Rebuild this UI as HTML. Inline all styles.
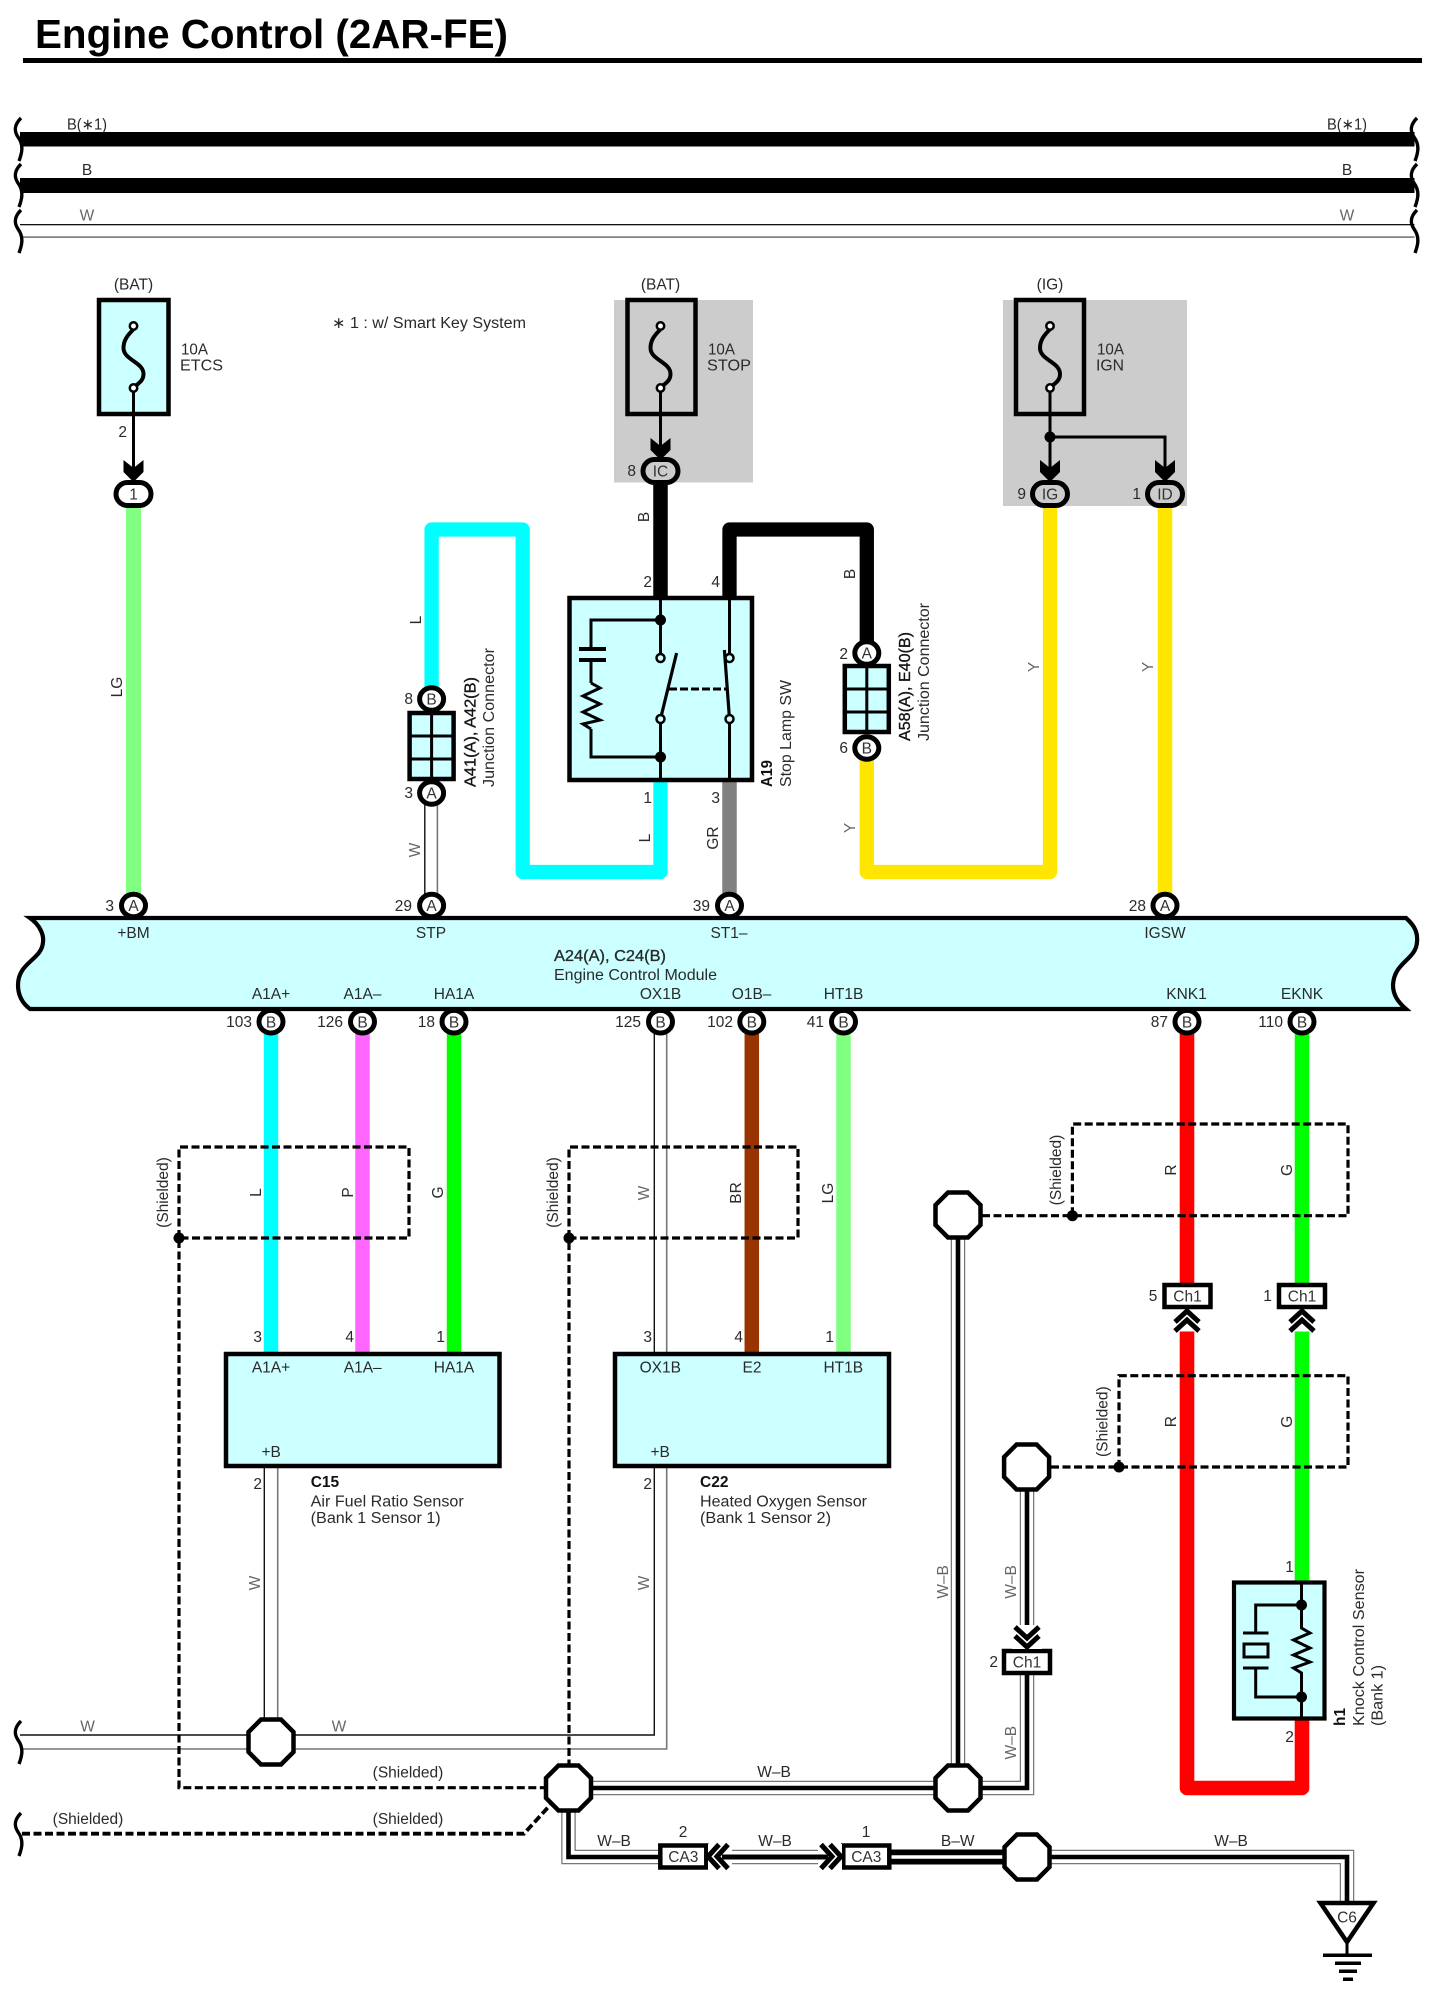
<!DOCTYPE html>
<html><head><meta charset="utf-8"><title>Engine Control (2AR-FE)</title>
<style>
html,body{margin:0;padding:0;background:#fff}
svg{display:block}
text{font-family:"Liberation Sans",sans-serif;font-size:15.5px;fill:#2a2a2a}
.m{text-anchor:middle}.e{text-anchor:end}
.b{font-weight:bold;fill:#111}
.s{font-size:15.5px;fill:#333}
.g{fill:#666}
.w{fill:none;stroke-linejoin:round}
.d{fill:none;stroke:#000;stroke-width:3.2;stroke-dasharray:8 3.5}
.k{fill:none;stroke:#000}
</style></head><body>
<svg xmlns="http://www.w3.org/2000/svg" width="1432" height="1996" viewBox="0 0 1432 1996">
<defs>
<path id="br" d="M21,0 C14,7 14,13 18,19 C24,27 22,35 19,43" fill="none" stroke="#000" stroke-width="3.4"/>
<polygon id="oct" points="-10,-22.5 10,-22.5 22.5,-10 22.5,10 10,22.5 -10,22.5 -22.5,10 -22.5,-10" fill="#fff" stroke="#000" stroke-width="4.5"/>
<ellipse id="c" rx="12" ry="11.3" fill="#fff" stroke="#000" stroke-width="5"/>
<rect id="p" x="-17.5" y="-11.5" width="35" height="23" rx="11.5" fill="#fff" stroke="#000" stroke-width="5"/>
<rect id="pg" x="-17.5" y="-11.5" width="35" height="23" rx="11.5" fill="#ccc" stroke="#000" stroke-width="5"/>
<polygon id="ad" points="-10,-20 0,-12 10,-20 10,-8 0,2 -10,-8"/>
<g id="fuse">
<path d="M0,31 C-3,35 -10,40 -10,50 C-10,62 10,64 10,76 C10,84 3,86 0,90" fill="none" stroke="#000" stroke-width="4"/>
<path d="M0,90 V120" fill="none" stroke="#000" stroke-width="3"/>
<circle cy="28" r="3.7" fill="#fff" stroke="#000" stroke-width="2.5"/>
<circle cy="90" r="3.7" fill="#fff" stroke="#000" stroke-width="2.5"/>
</g>
<g id="dc">
<polyline points="-12,13 0,2 12,13" fill="none" stroke="#000" stroke-width="5"/>
<polyline points="-12,22 0,11 12,22" fill="none" stroke="#000" stroke-width="5"/>
</g>
<g id="jb">
<rect x="-22" y="0" width="44" height="66" fill="#ccffff" stroke="#000" stroke-width="4.5"/>
<path d="M0,0 V66" stroke="#000" stroke-width="3"/>
<path d="M-22,23 H22 M-22,46 H22" stroke="#000" stroke-width="3"/>
</g>
<g id="tr1"><rect x="-23" y="-11" width="46" height="22" fill="#fff" stroke="#000" stroke-width="4.5"/></g>
</defs>

<!-- Title -->
<text x="35" y="48" style="font-size:41px;font-weight:bold;fill:#000" textLength="473" lengthAdjust="spacingAndGlyphs">Engine Control (2AR-FE)</text>
<rect x="23" y="58" width="1399" height="5" fill="#000"/>

<!-- Buses -->
<rect x="20" y="132" width="1394.5" height="14.5" fill="#000"/>
<rect x="20" y="178" width="1394.5" height="15" fill="#000"/>
<rect x="20" y="224" width="1394.5" height="1.3" fill="#111"/>
<rect x="20" y="236.3" width="1394.5" height="1.6" fill="#777"/>
<use href="#br" x="0" y="118"/><use href="#br" x="0" y="164"/><use href="#br" x="0" y="210"/>
<use href="#br" x="1396" y="118"/><use href="#br" x="1396" y="164"/><use href="#br" x="1396" y="210"/>
<text class="m" x="87" y="129.5" textLength="40" lengthAdjust="spacingAndGlyphs">B(∗1)</text>
<text class="m" x="87" y="175">B</text>
<text class="m g" x="87" y="220.5">W</text>
<text class="m" x="1347" y="129.5" textLength="40" lengthAdjust="spacingAndGlyphs">B(∗1)</text>
<text class="m" x="1347" y="175">B</text>
<text class="m g" x="1347" y="220.5">W</text>

<!-- Grey zones -->
<rect x="614" y="300" width="139" height="182.5" fill="#ccc"/>
<rect x="1003" y="300" width="184" height="206" fill="#ccc"/>

<!-- Wires top half -->
<g class="w">
<path d="M133.5,500 V905" stroke="#80ff80" stroke-width="15" fill="none"/>
<path d="M660.5,480 V600" stroke="#000" stroke-width="14.5" fill="none"/>
<path d="M729.5,600 V529.5 H866.8 V645" stroke="#000" stroke-width="14.3" fill="none" stroke-linejoin="round"/>
<path d="M431.6,695 V529.5 H522.7 V872 H660.5 V778" stroke="#00ffff" stroke-width="14.3" fill="none" stroke-linejoin="round"/>
<path d="M866.8,755 V872 H1050 V500" stroke="#ffe600" stroke-width="14.3" fill="none" stroke-linejoin="round"/>
<path d="M1165,500 V905" stroke="#ffe600" stroke-width="14.5" fill="none"/>
<path d="M729.5,780 V905" stroke="#808080" stroke-width="14.5" fill="none"/>
</g>
<path d="M424.8,795 V905" stroke="#111" stroke-width="1.4"/>
<path d="M437.4,795 V905" stroke="#777" stroke-width="1.6"/>

<!-- Fuses -->
<rect x="99" y="300" width="69.5" height="114" fill="#ccffff" stroke="#000" stroke-width="4.5"/>
<use href="#fuse" x="133.5" y="298"/>
<path d="M133.5,415 V470" class="k" stroke-width="3"/>
<use href="#ad" x="133.5" y="480"/>
<rect x="627.5" y="300" width="68" height="114" fill="#ccc" stroke="#000" stroke-width="4.5"/>
<use href="#fuse" x="660.5" y="298"/>
<path d="M660.5,415 V448" class="k" stroke-width="3"/>
<use href="#ad" x="660.5" y="458"/>
<rect x="1016" y="300" width="68" height="114" fill="#ccc" stroke="#000" stroke-width="4.5"/>
<use href="#fuse" x="1050" y="298"/>
<path d="M1050,415 V470 M1050,437 H1165 V470" class="k" stroke-width="3"/>
<circle cx="1050" cy="437" r="5.5"/>
<use href="#ad" x="1050" y="480"/><use href="#ad" x="1165" y="480"/>

<use href="#p" x="133.5" y="494"/>
<use href="#pg" x="660.5" y="471"/>
<use href="#pg" x="1050" y="494"/>
<use href="#pg" x="1165" y="494"/>
<text class="m s" x="133.5" y="499.5">1</text>
<text class="m s" x="660.5" y="476.5">IC</text>
<text class="m s" x="1050" y="499.5">IG</text>
<text class="m s" x="1165" y="499.5">ID</text>
<text class="e" x="636" y="476">8</text>
<text class="e" x="1026" y="499">9</text>
<text class="e" x="1141" y="499">1</text>
<text x="127" y="437" class="e" style="font-size:15.5px">2</text>

<text class="m" x="133.5" y="289.5">(BAT)</text>
<text class="m" x="660.5" y="289.5">(BAT)</text>
<text class="m" x="1050" y="289.5">(IG)</text>
<text x="181" y="354.5" textLength="27" lengthAdjust="spacingAndGlyphs">10A</text>
<text x="180" y="370.5" textLength="43" lengthAdjust="spacingAndGlyphs">ETCS</text>
<text x="708" y="354.5" textLength="27" lengthAdjust="spacingAndGlyphs">10A</text>
<text x="707" y="370.5" textLength="44" lengthAdjust="spacingAndGlyphs">STOP</text>
<text x="1097" y="354.5" textLength="27" lengthAdjust="spacingAndGlyphs">10A</text>
<text x="1096" y="370.5" textLength="28" lengthAdjust="spacingAndGlyphs">IGN</text>
<text x="332" y="328" textLength="194" lengthAdjust="spacingAndGlyphs">∗ 1 : w/ Smart Key System</text>

<!-- Switch -->
<rect x="569.5" y="598" width="182.5" height="182" fill="#ccffff" stroke="#000" stroke-width="4.5"/>
<g class="k" stroke-width="3">
<path d="M660.5,598 V658 M660.5,719 V780 M729.5,598 V658 M729.5,719 V780"/>
<path d="M660.5,620 H591 V649 M591,660 V683 M591,729 V757 H660.5"/>
<path d="M591,683 L600,688 L583,696 L600,704 L583,712 L600,720 L583,724 L591,729" stroke-width="3"/>
<path d="M579,649 H606 M579,660 H606" stroke-width="4"/>
<path d="M660.5,719 L676.6,653" stroke-width="3.2"/>
<path d="M724.4,650 L729.5,719" stroke-width="3.2"/>
<path d="M669,689 H726" stroke-dasharray="8 3"/>
</g>
<circle cx="660.5" cy="620" r="5.5"/><circle cx="660.5" cy="757" r="5.5"/>
<circle cx="660.5" cy="658" r="4" fill="#ccffff" stroke="#000" stroke-width="2.5"/>
<circle cx="660.5" cy="719" r="4" fill="#ccffff" stroke="#000" stroke-width="2.5"/>
<circle cx="729.5" cy="658" r="4" fill="#ccffff" stroke="#000" stroke-width="2.5"/>
<circle cx="729.5" cy="719" r="4" fill="#ccffff" stroke="#000" stroke-width="2.5"/>

<!-- Junction connectors -->
<use href="#jb" x="431.6" y="713"/>
<use href="#jb" x="866.8" y="666"/>
<use href="#c" x="431.6" y="699"/><text class="m s" x="431.6" y="704.5">B</text>
<use href="#c" x="431.6" y="793"/><text class="m s" x="431.6" y="798.5">A</text>
<use href="#c" x="866.8" y="653"/><text class="m s" x="866.8" y="658.5">A</text>
<use href="#c" x="866.8" y="748"/><text class="m s" x="866.8" y="753.5">B</text>
<text class="e" x="413" y="704">8</text><text class="e" x="413" y="798">3</text>
<text class="e" x="848" y="659">2</text><text class="e" x="848" y="753">6</text>
<text class="e" x="652" y="587">2</text><text class="e" x="720" y="587">4</text>
<text class="e" x="652" y="803">1</text><text class="e" x="720" y="803">3</text>

<!-- Rotated labels upper -->
<text class="m" transform="translate(122,687) rotate(-90)">LG</text>
<text class="m" transform="translate(421,620) rotate(-90)">L</text>
<text class="m g" transform="translate(420,850) rotate(-90)">W</text>
<text class="m" transform="translate(649,517) rotate(-90)">B</text>
<text class="m" transform="translate(855,574) rotate(-90)">B</text>
<text class="m" transform="translate(650,838) rotate(-90)">L</text>
<text class="m" transform="translate(718,838) rotate(-90)">GR</text>
<text class="m g" transform="translate(855,828) rotate(-90)">Y</text>
<text class="m g" transform="translate(1039,667) rotate(-90)">Y</text>
<text class="m g" transform="translate(1153,667) rotate(-90)">Y</text>
<text class="b" style="font-weight:normal;stroke:#222;stroke-width:.35" transform="translate(475.7,787) rotate(-90)" textLength="110" lengthAdjust="spacingAndGlyphs">A41(A), A42(B)</text>
<text transform="translate(494,787) rotate(-90)" textLength="139" lengthAdjust="spacingAndGlyphs">Junction Connector</text>
<text class="b" transform="translate(772,787) rotate(-90)" textLength="27" lengthAdjust="spacingAndGlyphs">A19</text>
<text transform="translate(791,787) rotate(-90)" textLength="107" lengthAdjust="spacingAndGlyphs">Stop Lamp SW</text>
<text class="b" style="font-weight:normal;stroke:#222;stroke-width:.35" transform="translate(910,741) rotate(-90)" textLength="109" lengthAdjust="spacingAndGlyphs">A58(A), E40(B)</text>
<text transform="translate(929,741) rotate(-90)" textLength="138" lengthAdjust="spacingAndGlyphs">Junction Connector</text>

<!-- Lower wires -->
<path d="M271,1020 V1354" stroke="#00ffff" stroke-width="14.5"/>
<path d="M362.5,1020 V1354" stroke="#ff66ff" stroke-width="14.5"/>
<path d="M454,1020 V1354" stroke="#00ff00" stroke-width="14.5"/>
<path d="M654.3,1020 V1354" stroke="#111" stroke-width="1.4"/>
<path d="M666.7,1020 V1354" stroke="#777" stroke-width="1.6"/>
<path d="M751.8,1020 V1354" stroke="#993300" stroke-width="14.5"/>
<path d="M843.5,1020 V1354" stroke="#80ff80" stroke-width="14.5"/>
<path d="M1187,1020 V1285" stroke="#ff0000" stroke-width="14.6"/>
<path d="M1302,1020 V1285" stroke="#00ff00" stroke-width="14.6"/>
<path d="M1187,1325 V1788 H1302 V1715" fill="none" stroke="#ff0000" stroke-width="14.6" stroke-linejoin="round"/>
<path d="M1302,1325 V1585" stroke="#00ff00" stroke-width="14.6"/>

<!-- White double wires -->
<g fill="none">
<path d="M264.3,1466 V1722" stroke="#111" stroke-width="1.4"/>
<path d="M277.7,1466 V1722" stroke="#777" stroke-width="1.6"/>
<path d="M20,1735 H250 M292,1735 H654.3 V1466" stroke="#111" stroke-width="1.4"/>
<path d="M20,1749 H250 M292,1749 H666.7 V1466" stroke="#777" stroke-width="1.6"/>
</g>

<!-- W-B triple wires -->
<g fill="none" stroke-linejoin="miter">
<g stroke="#777" stroke-width="14.5">
<path d="M568.5,1788 H1027 V1467"/><path d="M958,1215 V1788"/><path d="M568.5,1788 V1857 H659"/><path d="M708,1857 H841"/><path d="M1027,1857 H1347 V1905"/>
</g>
<g stroke="#fff" stroke-width="12">
<path d="M568.5,1788 H1027 V1467"/><path d="M958,1215 V1788"/><path d="M568.5,1788 V1857 H659"/><path d="M708,1857 H841"/><path d="M1027,1857 H1347 V1905"/>
</g>
<g stroke="#000" stroke-width="4.6">
<path d="M568.5,1788 H1027 V1467"/><path d="M958,1215 V1788"/><path d="M568.5,1788 V1857 H659"/><path d="M708,1857 H841"/><path d="M1027,1857 H1347 V1905"/>
</g>
<path d="M891,1857 H1005" stroke="#000" stroke-width="15"/>
<path d="M891,1857 H1005" stroke="#fff" stroke-width="3.5"/>
</g>

<!-- Shields -->
<path class="d" d="M179,1238 V1147 H409 V1238 H179 V1787.7 H545"/>
<path class="d" d="M569,1238 V1147 H798 V1238 H569 V1765"/>
<path class="d" d="M982,1215.7 H1348 V1124 H1072.4 V1215.7"/>
<path class="d" d="M1051,1467 H1348 V1375.7 H1119 V1467"/>
<path class="d" style="stroke-width:3.8" d="M22,1833.7 H524 L552,1803"/>
<circle cx="179" cy="1238" r="5.5"/><circle cx="569" cy="1238" r="5.5"/>
<circle cx="1072.4" cy="1215.7" r="5.5"/><circle cx="1119" cy="1467" r="5.5"/>

<!-- ECM -->
<path d="M30,918 H1406 C1414,925 1418,932 1417,942 C1416,960 1394,962 1393,985 C1393,995 1398,1002 1406,1009 H30 C22,1003 18,995 18,985 C18,962 42,960 43,942 C44,935 40,925 30,918 Z" fill="#ccffff" stroke="#000" stroke-width="4.2"/>
<text class="m" x="133.5" y="938">+BM</text>
<text class="m" x="431" y="938">STP</text>
<text class="m" x="729" y="938">ST1–</text>
<text class="m" x="1165" y="938">IGSW</text>
<text x="554" y="961" textLength="112" lengthAdjust="spacingAndGlyphs" style="stroke:#222;stroke-width:.3">A24(A), C24(B)</text>
<text x="554" y="980" textLength="163" lengthAdjust="spacingAndGlyphs">Engine Control Module</text>
<text class="m" x="271" y="999">A1A+</text>
<text class="m" x="362.5" y="999">A1A–</text>
<text class="m" x="454" y="999">HA1A</text>
<text class="m" x="660.5" y="999">OX1B</text>
<text class="m" x="751.6" y="999">O1B–</text>
<text class="m" x="843.5" y="999">HT1B</text>
<text class="m" x="1186.5" y="999">KNK1</text>
<text class="m" x="1302" y="999">EKNK</text>

<!-- ECM pins -->
<use href="#c" x="133.5" y="905.5"/><text class="m s" x="133.5" y="911">A</text>
<use href="#c" x="431.6" y="905.5"/><text class="m s" x="431.6" y="911">A</text>
<use href="#c" x="729.5" y="905.5"/><text class="m s" x="729.5" y="911">A</text>
<use href="#c" x="1165" y="905.5"/><text class="m s" x="1165" y="911">A</text>
<text class="e" x="114" y="911">3</text><text class="e" x="412" y="911">29</text>
<text class="e" x="710" y="911">39</text><text class="e" x="1146" y="911">28</text>
<use href="#c" x="271" y="1021.7"/><text class="m s" x="271" y="1027.5">B</text>
<use href="#c" x="362.5" y="1021.7"/><text class="m s" x="362.5" y="1027.5">B</text>
<use href="#c" x="454" y="1021.7"/><text class="m s" x="454" y="1027.5">B</text>
<use href="#c" x="660.5" y="1021.7"/><text class="m s" x="660.5" y="1027.5">B</text>
<use href="#c" x="751.8" y="1021.7"/><text class="m s" x="751.8" y="1027.5">B</text>
<use href="#c" x="843.5" y="1021.7"/><text class="m s" x="843.5" y="1027.5">B</text>
<use href="#c" x="1187" y="1021.7"/><text class="m s" x="1187" y="1027.5">B</text>
<use href="#c" x="1302" y="1021.7"/><text class="m s" x="1302" y="1027.5">B</text>
<text class="e" x="252" y="1027">103</text><text class="e" x="343" y="1027">126</text>
<text class="e" x="435" y="1027">18</text><text class="e" x="641" y="1027">125</text>
<text class="e" x="733" y="1027">102</text><text class="e" x="824" y="1027">41</text>
<text class="e" x="1168" y="1027">87</text><text class="e" x="1283" y="1027">110</text>

<!-- Sensors -->
<rect x="226" y="1354" width="273.5" height="112" fill="#ccffff" stroke="#000" stroke-width="4.5"/>
<rect x="615" y="1354" width="274" height="112" fill="#ccffff" stroke="#000" stroke-width="4.5"/>
<text class="m" x="271" y="1372.5">A1A+</text><text class="m" x="362.7" y="1372.5">A1A–</text><text class="m" x="454" y="1372.5">HA1A</text>
<text class="m" x="660.3" y="1372.5">OX1B</text><text class="m" x="752" y="1372.5">E2</text><text class="m" x="843.3" y="1372.5">HT1B</text>
<text x="261.5" y="1457">+B</text><text x="650.5" y="1457">+B</text>
<text class="e" x="262" y="1342">3</text><text class="e" x="354" y="1342">4</text><text class="e" x="445" y="1342">1</text>
<text class="e" x="652" y="1342">3</text><text class="e" x="743" y="1342">4</text><text class="e" x="834" y="1342">1</text>
<text class="e" x="262" y="1489">2</text><text class="e" x="652" y="1489">2</text>
<text class="b" x="310.7" y="1487">C15</text>
<text x="310.7" y="1506.5" textLength="153" lengthAdjust="spacingAndGlyphs">Air Fuel Ratio Sensor</text>
<text x="310.7" y="1523" textLength="130" lengthAdjust="spacingAndGlyphs">(Bank 1 Sensor 1)</text>
<text class="b" x="700" y="1487">C22</text>
<text x="700" y="1506.5" textLength="167" lengthAdjust="spacingAndGlyphs">Heated Oxygen Sensor</text>
<text x="700" y="1523" textLength="131" lengthAdjust="spacingAndGlyphs">(Bank 1 Sensor 2)</text>

<!-- Lower rotated labels -->
<text class="m" transform="translate(168,1192.5) rotate(-90)">(Shielded)</text>
<text class="m" transform="translate(558,1192.5) rotate(-90)">(Shielded)</text>
<text class="m" transform="translate(1061,1170) rotate(-90)">(Shielded)</text>
<text class="m" transform="translate(1107.5,1421.7) rotate(-90)">(Shielded)</text>
<text class="m" transform="translate(261,1192.5) rotate(-90)">L</text>
<text class="m" transform="translate(353,1192.5) rotate(-90)">P</text>
<text class="m" transform="translate(443,1192.5) rotate(-90)">G</text>
<text class="m g" transform="translate(649,1193) rotate(-90)">W</text>
<text class="m" transform="translate(741,1193) rotate(-90)">BR</text>
<text class="m" transform="translate(833,1193) rotate(-90)">LG</text>
<text class="m" transform="translate(1176,1170) rotate(-90)">R</text>
<text class="m" transform="translate(1292,1170) rotate(-90)">G</text>
<text class="m" transform="translate(1176,1421.7) rotate(-90)">R</text>
<text class="m" transform="translate(1292,1421.7) rotate(-90)">G</text>
<text class="m g" transform="translate(260,1583) rotate(-90)">W</text>
<text class="m g" transform="translate(649,1583) rotate(-90)">W</text>
<text class="m g" transform="translate(948,1582) rotate(-90)">W–B</text>
<text class="m g" transform="translate(1016,1582) rotate(-90)">W–B</text>
<text class="m g" transform="translate(1016,1742.7) rotate(-90)">W–B</text>

<!-- Ch1 connectors -->
<use href="#tr1" x="1187.5" y="1296"/><text class="m s" x="1187.5" y="1301.5">Ch1</text>
<use href="#tr1" x="1302" y="1296"/><text class="m s" x="1302" y="1301.5">Ch1</text>
<use href="#tr1" x="1027" y="1662"/><text class="m s" x="1027" y="1667.5">Ch1</text>
<text class="m" x="1153" y="1301">5</text><text class="m" x="1267.5" y="1301">1</text>
<text class="e" x="998" y="1667">2</text>
<rect x="1172" y="1309.5" width="30" height="22" fill="#fff"/>
<rect x="1287" y="1309.5" width="30" height="22" fill="#fff"/>
<rect x="1012" y="1625" width="30" height="24" fill="#fff"/>
<use href="#dc" x="1187" y="1309"/>
<use href="#dc" x="1302" y="1309"/>
<use href="#dc" transform="translate(1027,1649) rotate(180)"/>

<!-- CA3 -->
<use href="#tr1" x="683.3" y="1856.5"/><text class="m s" x="683.3" y="1862">CA3</text>
<use href="#tr1" x="866.3" y="1856.5"/><text class="m s" x="866.3" y="1862">CA3</text>
<rect x="708" y="1844" width="24" height="26" fill="#fff"/>
<rect x="818" y="1844" width="24" height="26" fill="#fff"/>
<path d="M722,1857 H828" stroke="#000" stroke-width="5"/>
<use href="#dc" transform="translate(706,1856.5) rotate(-90)"/>
<use href="#dc" transform="translate(843,1856.5) rotate(90)"/>
<text class="m" x="683" y="1837">2</text><text class="m" x="866" y="1837">1</text>

<!-- Horizontal labels lower -->
<text class="m g" x="87.6" y="1731.5">W</text>
<text class="m g" x="339" y="1731.5">W</text>
<text class="m" x="408" y="1777.5">(Shielded)</text>
<text class="m" x="408" y="1824">(Shielded)</text>
<text class="m" x="88" y="1824">(Shielded)</text>
<text class="m" x="774" y="1777">W–B</text>
<text class="m" x="614" y="1846">W–B</text>
<text class="m" x="775" y="1846">W–B</text>
<text class="m" x="957.7" y="1846">B–W</text>
<text class="m" x="1231" y="1846">W–B</text>

<!-- Brackets bottom -->
<use href="#br" x="0" y="1721"/><use href="#br" x="0" y="1813"/>

<!-- Octagons -->
<use href="#oct" x="271" y="1742"/>
<use href="#oct" x="568.5" y="1788"/>
<use href="#oct" x="958" y="1215"/>
<use href="#oct" x="1026.6" y="1467"/>
<use href="#oct" x="958" y="1788"/>
<use href="#oct" x="1027" y="1857"/>

<!-- Knock sensor -->
<rect x="1234" y="1582.5" width="90.5" height="136" fill="#ccffff" stroke="#000" stroke-width="4.2"/>
<g class="k" stroke-width="3">
<path d="M1301.5,1582 V1628 L1310,1633 L1293.5,1640 L1310,1648 L1293.5,1655 L1310,1662 L1293.5,1668 L1301.5,1673 V1720"/>
<path d="M1301.5,1605 H1255.7 V1633 M1255.7,1668 V1697 H1301.5"/>
<path d="M1243,1633 H1268.5 M1243,1668 H1268.5"/>
<rect x="1244" y="1644" width="24" height="13"/>
</g>
<circle cx="1301.5" cy="1605" r="5.5"/><circle cx="1301.5" cy="1697" r="5.5"/>
<text class="m" x="1289.5" y="1572">1</text>
<text class="m" x="1289.5" y="1742">2</text>
<text class="b" transform="translate(1345,1726) rotate(-90)">h1</text>
<text transform="translate(1364,1726) rotate(-90)" textLength="157" lengthAdjust="spacingAndGlyphs">Knock Control Sensor</text>
<text transform="translate(1382.7,1726) rotate(-90)" textLength="61" lengthAdjust="spacingAndGlyphs">(Bank 1)</text>

<!-- Ground -->
<polygon points="1320.5,1903 1373.5,1903 1347,1942" fill="#fff" stroke="#000" stroke-width="4.5"/>
<path d="M1347,1942 V1955" class="k" stroke-width="3"/>
<rect x="1323" y="1953.5" width="49" height="3.5"/>
<rect x="1335" y="1961.5" width="26" height="3.5"/>
<rect x="1339" y="1969.5" width="18" height="3.5"/>
<rect x="1343" y="1977.5" width="10" height="3.5"/>
<text class="m s" x="1347" y="1922.5">C6</text>
</svg>
</body></html>
